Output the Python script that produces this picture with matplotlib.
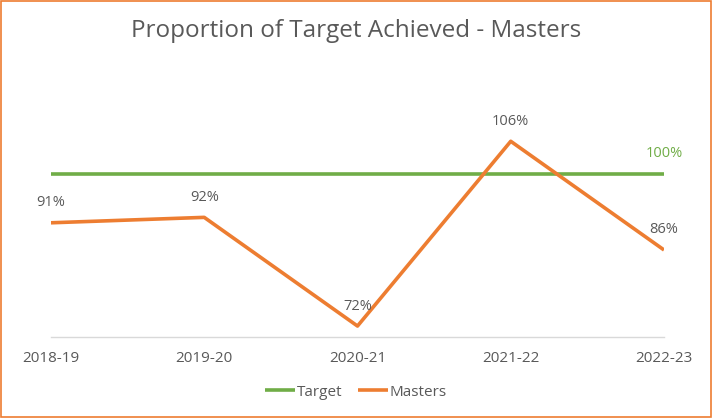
import matplotlib.pyplot as plt
from matplotlib.patches import Rectangle

years = ['2018-19', '2019-20', '2020-21', '2021-22', '2022-23']
target = [100, 100, 100, 100, 100]
masters = [91, 92, 72, 106, 86]

green = '#70AD47'
orange = '#ED7D31'
grey = '#595959'

plt.rcParams['font.family'] = ['Open Sans', 'DejaVu Sans']

fig = plt.figure(figsize=(7.12, 4.18), dpi=100)
ax = fig.add_axes([0.0716, 0.194, 0.861, 0.52])

x = list(range(len(years)))
ax.plot(x, target, color=green, lw=2.6, label='Target', solid_capstyle='butt')
ax.plot(x, masters, color=orange, lw=2.6, label='Masters', solid_capstyle='butt')

for i, v in enumerate(masters):
    ax.annotate(f'{v}%', (i, v), xytext=(0, 9), textcoords='offset points',
                ha='center', va='bottom', fontsize=10.5, color=grey)
ax.annotate(f'{target[-1]}%', (x[-1], target[-1]), xytext=(0, 9),
            textcoords='offset points', ha='center', va='bottom',
            fontsize=10.5, color=green)

ax.set_xlim(0, len(years) - 1)
ax.set_ylim(70, 110)
ax.set_xticks(x)
ax.set_xticklabels(years, fontsize=11, color=grey)
ax.set_yticks([])
ax.tick_params(axis='x', length=0, pad=10)
for s in ['top', 'right', 'left']:
    ax.spines[s].set_visible(False)
ax.spines['bottom'].set_color('#D9D9D9')
ax.spines['bottom'].set_linewidth(1)

fig.text(0.5, 0.925, 'Proportion of Target Achieved - Masters', ha='center',
         va='center', fontsize=17.5, color=grey)

fig.legend(loc='center', bbox_to_anchor=(0.5, 0.062), ncol=2, frameon=False,
           fontsize=11, labelcolor=grey, handlelength=2.0, handletextpad=0.1,
           columnspacing=1.0)

fig.patches.append(Rectangle((0.002, 0.003), 0.996, 0.994, transform=fig.transFigure,
                             fill=False, edgecolor=orange, lw=1.2))

fig.savefig('out.png', dpi=100)
